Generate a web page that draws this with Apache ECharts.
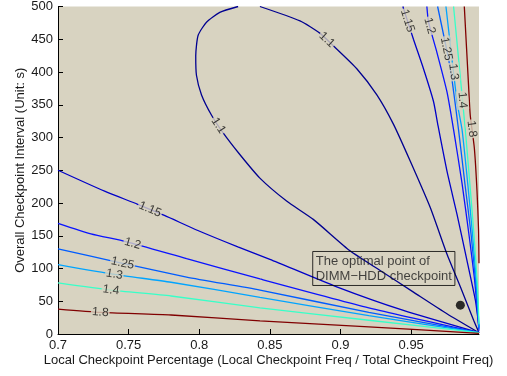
<!DOCTYPE html>
<html><head><meta charset="utf-8">
<script src="https://cdn.jsdelivr.net/npm/echarts@6/dist/echarts.min.js"></script>
<style>html,body{margin:0;padding:0;background:#fff}#c{width:507px;height:376px}</style>
</head><body><div id="c"></div>
<script>
// ---- axis ----
const xMin = 0.7, xMax = 0.998;
const xTickValues = [0.7, 0.75, 0.8, 0.85, 0.9, 0.95];
const yMin = 0, yMax = 500, yStep = 50;
const xTitle = 'Local Checkpoint Percentage (Local Checkpoint Freq / Total Checkpoint Freq)';
const yTitle = 'Overall Checkpoint Interval (Unit: s)';

// ---- contour lines (x = local checkpoint percentage, y = interval) ----
const c110a = [[0.998,2],[0.9753,31],[0.9516,64],[0.928,97],[0.9067,127],[0.8807,175],[0.8618,203],[0.8429,238],[0.8287,274],[0.8169,307],[0.8087,334],[0.8016,365],[0.798,395],[0.7975,425],[0.7992,456],[0.8051,476],[0.8145,491],[0.8275,500]];
const c110b = [[0.8429,500],[0.8713,478],[0.8855,459],[0.8949,440],[0.9115,405],[0.9257,365],[0.9375,320],[0.9493,264],[0.9635,193],[0.9753,122],[0.9848,72],[0.9942,21],[0.998,2]];
const c115a = [[0.7,250],[0.733,218],[0.7564,198],[0.7753,181],[0.799,158],[0.8273,133],[0.85,114],[0.8973,72],[0.9445,36],[0.998,2]];
const c115b = [[0.9441,500],[0.9516,450],[0.9587,405],[0.9658,355],[0.969,318],[0.9753,249],[0.9824,183],[0.9895,112],[0.9954,52],[0.998,10]];
const c120a = [[0.7,169],[0.7233,153],[0.7481,141],[0.791,115],[0.843,84],[0.92,40],[0.998,2]];
const c120b = [[0.9611,500],[0.9623,476],[0.9682,430],[0.9753,370],[0.98,312],[0.986,230],[0.991,150],[0.995,80],[0.998,5]];
const c125a = [[0.7,130],[0.7457,108],[0.791,87],[0.843,67],[0.92,33],[0.998,2]];
const c125b = [[0.9687,500],[0.9777,405],[0.9835,312],[0.988,230],[0.9925,150],[0.996,70],[0.998,8]];
const c130a = [[0.7,106],[0.74,91],[0.78,79],[0.843,56],[0.92,28],[0.998,2]];
const c130b = [[0.9746,500],[0.9824,355],[0.986,312],[0.99,230],[0.9935,150],[0.9965,70],[0.998,10]];
const c140a = [[0.7,78],[0.7375,67],[0.78,58],[0.843,40],[0.92,21],[0.998,2]];
const c140b = [[0.98,500],[0.9883,312],[0.9915,230],[0.9945,150],[0.997,70],[0.998,15]];
const c180a = [[0.7,38],[0.73,33],[0.78,29],[0.843,20],[0.92,11],[0.998,1]];
const c180b = [[0.9876,500],[0.9906,380],[0.9918,334],[0.9947,284],[0.9966,218],[0.9977,158],[0.998,108]];

const levels = ['1.1','1.15','1.2','1.25','1.3','1.4','1.8'];
const levelColors = ['#000090','#0000c8','#0a14ff','#005cff','#00a4ff','#38ffc8','#800000'];
const contourLines = [
  ['1.1', c110a], ['1.1', c110b], ['1.15', c115a], ['1.15', c115b],
  ['1.2', c120a], ['1.2', c120b], ['1.25', c125a], ['1.25', c125b],
  ['1.3', c130a], ['1.3', c130b], ['1.4', c140a], ['1.4', c140b],
  ['1.8', c180a], ['1.8', c180b]
];
// contour labels: line index, approximate x, approximate y
const labelLine = [0, 1, 2, 3, 4, 5, 6, 7, 8, 9, 10, 11, 12, 13];
const labelX = [0.814, 0.8902, 0.7647, 0.947, 0.7528, 0.9623, 0.7457, 0.974, 0.7399, 0.9789, 0.7375, 0.986, 0.7299, 0.9923];
const labelY = [319, 449, 188, 478, 138, 470, 108, 435, 91, 400, 67, 357, 33, 313];

// annotation
const noteText = ['The optimal point of', 'DIMM\u2212HDD checkpoint'];
const noteAnchor = [0.8803, 126];
const optimalPoint = [0.9848, 44];

const FONT = '"Liberation Sans", Arial, sans-serif';
const BG = '#d8d3c1';
const chart = echarts.init(document.getElementById('c'), null, {renderer: 'canvas'});

const lineSeries = contourLines.map(([lv, data]) => ({
  type: 'line', data: data, symbol: 'none', silent: true, animation: false,
  smooth: 0.2, clip: true,
  lineStyle: {color: levelColors[levels.indexOf(lv)], width: 1.3}, z: 2
}));

const baseOption = {
  animation: false,
  backgroundColor: '#ffffff',
  grid: {left: 58, right: 28, top: 4, bottom: 42, show: true, backgroundColor: BG, borderWidth: 0},
  xAxis: {
    type: 'value', min: xMin, max: xMax,
    name: xTitle, nameLocation: 'middle', nameGap: 20, nameMoveOverlap: false,
    nameTextStyle: {fontSize: 13, color: '#1a1a1a', fontFamily: FONT},
    axisLine: {show: true, onZero: false, lineStyle: {color: '#000', width: 1}},
    axisTick: {show: true, inside: true, length: 5, customValues: xTickValues, lineStyle: {color: '#000'}},
    axisLabel: {show: true, margin: 5, fontSize: 13, color: '#1a1a1a', fontFamily: FONT,
      customValues: xTickValues, formatter: v => String(+v.toFixed(2))},
    splitLine: {show: false}
  },
  yAxis: {
    type: 'value', min: yMin, max: yMax, interval: yStep,
    name: yTitle, nameLocation: 'middle', nameGap: 31, nameMoveOverlap: false,
    nameTextStyle: {fontSize: 13, color: '#1a1a1a', fontFamily: FONT},
    axisLine: {show: true, onZero: false, lineStyle: {color: '#000', width: 1}},
    axisTick: {show: true, inside: true, length: 5, lineStyle: {color: '#000'}},
    axisLabel: {show: true, margin: 5, fontSize: 13, color: '#1a1a1a', fontFamily: FONT},
    splitLine: {show: false}
  },
  series: lineSeries
};
chart.setOption(baseOption);

// place contour labels on their lines, rotated along the line
const labelData = labelLine.map((li, k) => {
  const pts = contourLines[li][1].map(p => chart.convertToPixel({gridIndex: 0}, p));
  const target = chart.convertToPixel({gridIndex: 0}, [labelX[k], labelY[k]]);
  let best = null;
  for (let i = 0; i < pts.length - 1; i++) {
    const a = pts[i], b = pts[i + 1];
    const dx = b[0] - a[0], dy = b[1] - a[1];
    const L2 = dx * dx + dy * dy || 1;
    let t = ((target[0] - a[0]) * dx + (target[1] - a[1]) * dy) / L2;
    t = Math.max(0, Math.min(1, t));
    const px = a[0] + t * dx, py = a[1] + t * dy;
    const d = (px - target[0]) ** 2 + (py - target[1]) ** 2;
    if (!best || d < best.d) best = {d, px, py, dx, dy};
  }
  let ang = Math.atan2(-best.dy, best.dx) * 180 / Math.PI;
  if (ang > 90) ang -= 180;
  if (ang < -90) ang += 180;
  const val = chart.convertFromPixel({gridIndex: 0}, [best.px, best.py]);
  return {value: val, name: contourLines[li][0], label: {rotate: ang}};
});

chart.setOption({
  series: lineSeries.concat([
    {
      type: 'scatter', data: labelData, symbolSize: 0, silent: true, z: 5,
      itemStyle: {color: 'rgba(0,0,0,0)'},
      label: {show: true, position: 'inside', formatter: p => p.name, fontSize: 12,
        color: '#111', fontFamily: FONT, backgroundColor: BG, padding: [0, 1]}
    },
    {
      type: 'scatter', data: [optimalPoint], symbol: 'circle', symbolSize: 9, silent: true, z: 6,
      itemStyle: {color: '#000'}
    },
    {
      type: 'scatter', data: [noteAnchor], symbolSize: 0, silent: true, z: 6,
      itemStyle: {color: 'rgba(0,0,0,0)'},
      label: {show: true, position: [0, 0], align: 'left', verticalAlign: 'top',
        formatter: noteText.join('\n'), fontSize: 13, lineHeight: 15, color: '#1a1a1a', fontFamily: FONT,
        borderColor: '#000', borderWidth: 1, padding: [2, 3, 2, 3]}
    }
  ])
});
</script></body></html>
